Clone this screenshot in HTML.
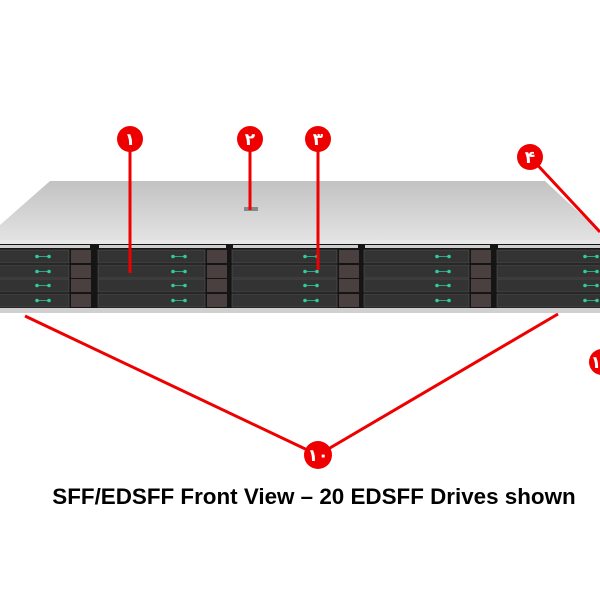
<!DOCTYPE html>
<html><head><meta charset="utf-8"><style>
html,body{margin:0;padding:0;background:#fff;width:600px;height:600px;overflow:hidden}
.t{position:absolute;left:0;top:484px;width:628px;text-align:center;font:bold 22.4px "Liberation Sans",Arial,sans-serif;color:#000;white-space:nowrap}
.n{font:bold 17px "Liberation Sans","DejaVu Sans",sans-serif;fill:#fff}
</style></head><body>
<svg id="s" width="600" height="600" style="position:absolute;left:0;top:0" xmlns="http://www.w3.org/2000/svg">
<defs><linearGradient id="top" x1="0" y1="0" x2="0" y2="1"><stop offset="0" stop-color="#c2c2c2"/><stop offset="1" stop-color="#e4e4e4"/></linearGradient></defs>
<polygon points="50,181 545,181 600,232 600,243 0,243 0,225" fill="url(#top)"/>
<rect x="0" y="240" width="600" height="4" fill="#e8e8e8"/>
<rect x="0" y="244" width="600" height="66" fill="#151515"/>
<rect x="0" y="308" width="600" height="5" fill="#d0d0d0"/>
<rect x="244" y="207" width="14" height="4" fill="#888"/>
<g id="d"></g>
<g stroke="#e00" stroke-width="3" fill="none">
<line x1="130" y1="139" x2="130" y2="273"/>
<line x1="250" y1="139" x2="250" y2="210"/>
<line x1="318" y1="139" x2="318" y2="270"/>
<line x1="530" y1="157" x2="600" y2="232"/>
<line x1="318" y1="455" x2="25" y2="316"/>
<line x1="318" y1="455" x2="558" y2="314"/>
</g>
<g fill="#e00">
<circle cx="130" cy="139" r="13"/><circle cx="250" cy="139" r="13"/><circle cx="318" cy="139" r="13"/>
<circle cx="530" cy="157" r="13"/><circle cx="318" cy="455" r="14"/><circle cx="602" cy="362" r="13"/>
</g>
<text class="n" x="130" y="145" text-anchor="middle">۱</text>
<text class="n" x="250" y="145" text-anchor="middle">۲</text>
<text class="n" x="318" y="145" text-anchor="middle">۳</text>
<text class="n" x="530" y="163" text-anchor="middle">۴</text>
<text class="n" x="318" y="461" text-anchor="middle">۱۰</text>
<text class="n" x="596" y="368" text-anchor="middle">۱</text>
</svg>
<div class="t">SFF/EDSFF Front View – 20 EDSFF Drives shown</div>
<script>
var g=document.getElementById('d'),h='';
var groups=[[-40,92],[97,228],[231,360],[363,492],[496,640]];
var rows=[250,265,279,294];
groups.forEach(function(a){
 var x0=a[0],x1=a[1],w=x1-x0,lw=20;
 h+='<rect x="'+(x0+2)+'" y="245" width="'+(w-4)+'" height="3" fill="#cfcfcf"/>';
 rows.forEach(function(y){
  h+='<rect x="'+(x0+1)+'" y="'+y+'" width="'+(w-lw-4)+'" height="13" fill="#333" stroke="#555" stroke-width="0.6"/>';
  h+='<rect x="'+(x1-lw-1)+'" y="'+y+'" width="'+lw+'" height="13" fill="#4a4040"/>';
  var lx=x1-lw-35;
  h+='<line x1="'+lx+'" y1="'+(y+6.5)+'" x2="'+(lx+12)+'" y2="'+(y+6.5)+'" stroke="#2a8" stroke-width="1"/>';
  h+='<circle cx="'+lx+'" cy="'+(y+6.5)+'" r="1.8" fill="#3c9"/><circle cx="'+(lx+12)+'" cy="'+(y+6.5)+'" r="1.8" fill="#3c9"/>';
 });
});
g.innerHTML=h;
</script>
</body></html>
